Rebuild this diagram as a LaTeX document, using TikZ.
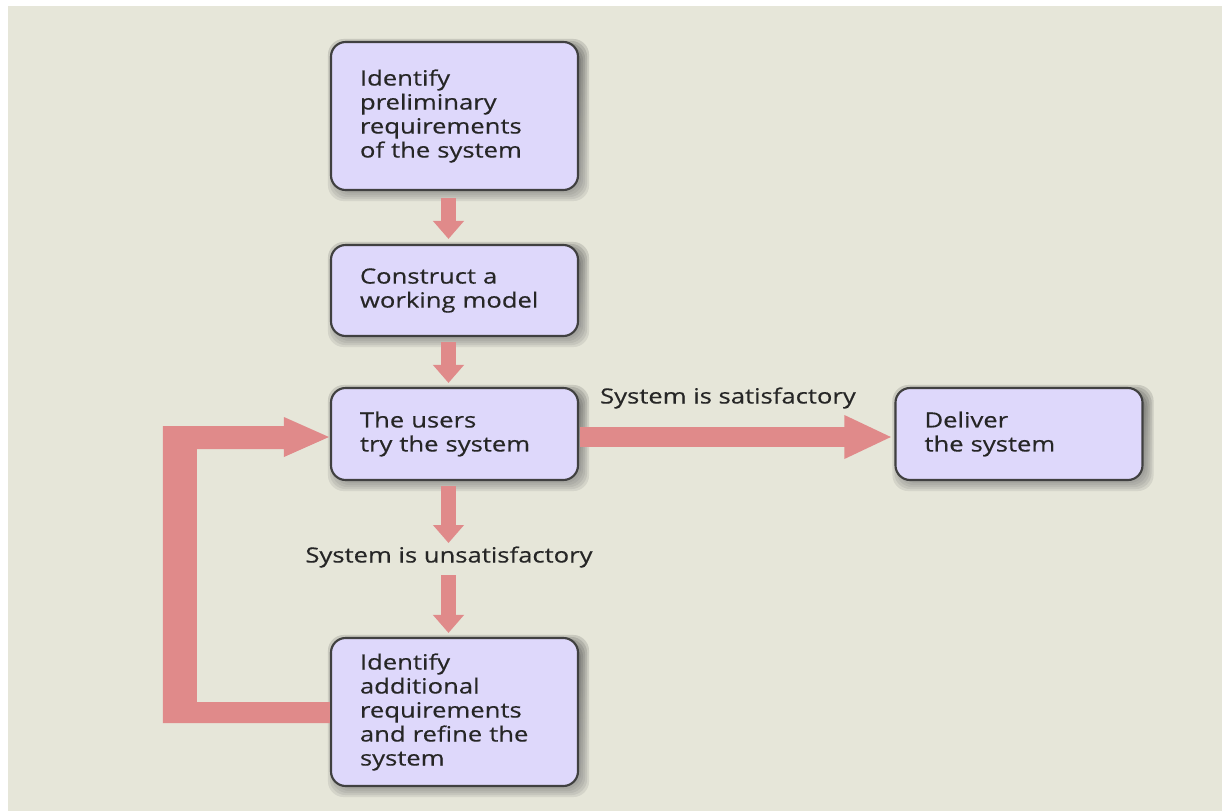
\documentclass[tikz,border=0pt]{standalone}
\usepackage{fontspec}
\setmainfont{Open Sans}[FakeStretch=1.22, FakeBold=0.4]
\usetikzlibrary{arrows.meta,calc,backgrounds}

\definecolor{paper}{HTML}{E6E6D9}
\definecolor{boxfill}{HTML}{DED8FB}
\definecolor{boxline}{HTML}{404040}
\definecolor{flow}{HTML}{E08A8A}
\definecolor{ink}{HTML}{262626}
\definecolor{shade}{HTML}{9A9E6A}

\begin{document}
\begin{tikzpicture}[x=0.75pt,y=-0.75pt,
  stepbox/.style={draw=boxline, line width=1.6pt, fill=boxfill,
    rounded corners=11pt, text width=141.75pt, align=left,
    inner xsep=21.75pt, inner ysep=0pt, text=ink,
    font=\fontsize{15.75pt}{18pt}\selectfont},
  lbl/.style={inner sep=0pt, text=ink, font=\fontsize{15.75pt}{18pt}\selectfont},
  smallflow/.style={draw=flow, line width=11.25pt,
    -{Triangle[width=22.5pt,length=13.5pt]}},
  bigflow/.style={draw=flow, line width=15pt,
    -{Triangle[width=30pt,length=36pt]}}]

\useasboundingbox (0,0) rectangle (1222,811);

% process steps
\node[stepbox, minimum height=111pt]   (b1) at (454.5,116)
  {Identify\\preliminary\\requirements\\of the system};
\node[stepbox, minimum height=68.25pt] (b2) at (454.5,290.5)
  {Construct a\\working model};
\node[stepbox, minimum height=69pt]    (b3) at (454.5,434)
  {The users\\try the system};
\node[stepbox, minimum height=69pt]    (b4) at (1019,434)
  {Deliver\\the system};
\node[stepbox, minimum height=111pt]   (b5) at (454.5,712)
  {Identify\\additional\\requirements\\and refine the\\system};

% outcome labels
\node[lbl] (ls) at (728,398) {System is satisfactory};
\node[lbl] (lu) at (449,557) {System is unsatisfactory};

% forward flow
\draw[smallflow] ($(b1.south)+(-6,7)$) -- ($(b1.south |- b2.north)+(-6,-5)$);
\draw[smallflow] ($(b2.south)+(-6,5)$) -- ($(b2.south |- b3.north)+(-6,-4)$);
\draw[smallflow] ($(b3.south)+(-6,5)$) -- ($(b3.south |- lu.center)+(-6,-14)$);
\draw[smallflow] ($(b3.south |- lu.center)+(-6,18)$) -- ($(b3.south |- b5.north)+(-6,-4)$);
\draw[bigflow] ($(b3.east)+(1,3)$) -- ($(b3.east -| b4.west)+(-2,3)$);

% feedback loop from refinement back to the trial
\fill[flow] ($(b5.west)+(0,-10)$) -- ($(b5.west)+(-133,-10)$)
  -- ($(b3.west)+(-133,15)$) -- ($(b3.west)+(-46,15)$)
  -- ($(b3.west)+(-46,23)$) -- ($(b3.west)+(-1,3)$)
  -- ($(b3.west)+(-46,-17)$) -- ($(b3.west)+(-46,-8)$)
  -- ($(b3.west)+(-167,-8)$) -- ($(b5.west)+(-167,11)$)
  -- ($(b5.west)+(0,11)$) -- cycle;

\begin{scope}[on background layer]
  \fill[white] (0,0) rectangle (1222,811);
  \fill[paper] (8,6) rectangle (1222,811);
  % soft drop shadows
  \foreach \b in {b1,b2,b3,b4,b5}{
    \foreach \s in {0,2,4,6,8}{
      \fill[shade, opacity=0.09, rounded corners=12pt]
        ($(\b.north west)+(6-\s,6-\s)$) rectangle ($(\b.south east)+(2+\s,2+\s)$);
    }
  }
\end{scope}
\end{tikzpicture}
\end{document}
